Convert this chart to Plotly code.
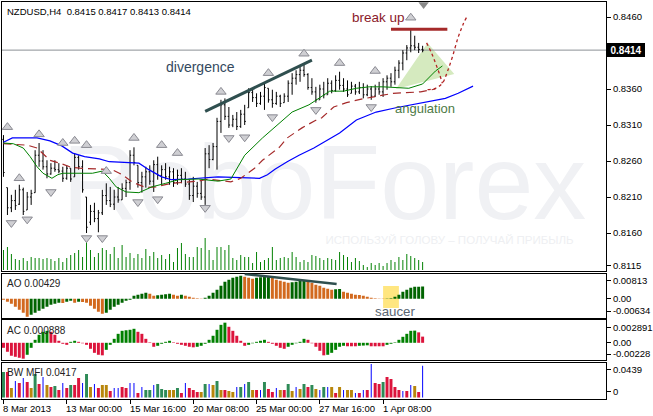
import plotly.graph_objects as go

# ---------------- data ----------------
symbol_header = "NZDUSD,H4  0.8415 0.8417 0.8413 0.8414"
tick_bars = [0, 16, 32, 48, 64, 80, 96]
tick_labels = ["8 Mar 2013", "13 Mar 00:00", "15 Mar 16:00", "20 Mar 08:00",
               "25 Mar 00:00", "27 Mar 16:00", "1 Apr 08:00"]

open_ = [0.8290,0.8223,0.8195,0.8205,0.8200,0.8220,0.8192,0.8210,0.8216,0.8268,
0.8260,0.8252,0.8242,0.8250,0.8248,0.8246,0.8236,0.8250,0.8238,0.8265,
0.8252,0.8210,0.8175,0.8190,0.8180,0.8188,0.8212,0.8205,0.8200,0.8210,
0.8206,0.8222,0.8230,0.8268,0.8254,0.8230,0.8238,0.8245,0.8232,0.8255,
0.8240,0.8248,0.8238,0.8245,0.8230,0.8240,0.8235,0.8228,0.8212,0.8225,
0.8215,0.8210,0.8270,0.8262,0.8280,0.8315,0.8338,0.8322,0.8310,0.8318,
0.8308,0.8325,0.8334,0.8355,0.8348,0.8340,0.8350,0.8361,0.8345,0.8340,
0.8350,0.8341,0.8350,0.8368,0.8375,0.8380,0.8386,0.8380,0.8362,0.8356,
0.8345,0.8360,0.8352,0.8368,0.8358,0.8372,0.8365,0.8360,0.8354,0.8364,
0.8356,0.8362,0.8352,0.8360,0.8350,0.8360,0.8356,0.8370,0.8375,0.8370,
0.8386,0.8396,0.8410,0.8417,0.8420,0.8418,0.8415]
high = [0.8296,0.8223,0.8213,0.8220,0.8227,0.8223,0.8217,0.8220,0.8275,0.8285,
0.8275,0.8261,0.8257,0.8261,0.8257,0.8252,0.8254,0.8250,0.8271,0.8268,
0.8261,0.8210,0.8199,0.8202,0.8192,0.8220,0.8229,0.8224,0.8220,0.8224,
0.8229,0.8234,0.8275,0.8279,0.8254,0.8245,0.8252,0.8254,0.8261,0.8266,
0.8254,0.8257,0.8252,0.8250,0.8248,0.8250,0.8245,0.8234,0.8238,0.8231,
0.8234,0.8278,0.8282,0.8285,0.8320,0.8345,0.8347,0.8335,0.8324,0.8328,
0.8331,0.8338,0.8361,0.8359,0.8354,0.8356,0.8368,0.8361,0.8359,0.8356,
0.8352,0.8354,0.8372,0.8382,0.8386,0.8391,0.8396,0.8382,0.8375,0.8363,
0.8366,0.8370,0.8375,0.8372,0.8379,0.8384,0.8375,0.8372,0.8370,0.8367,
0.8370,0.8368,0.8366,0.8364,0.8366,0.8370,0.8375,0.8379,0.8382,0.8391,
0.8400,0.8414,0.8421,0.8442,0.8434,0.8424,0.8420]
low = [0.8238,0.8185,0.8189,0.8192,0.8199,0.8185,0.8192,0.8199,0.8216,0.8252,
0.8248,0.8236,0.8241,0.8245,0.8243,0.8231,0.8234,0.8231,0.8238,0.8248,
0.8216,0.8160,0.8171,0.8175,0.8161,0.8185,0.8199,0.8196,0.8192,0.8202,
0.8206,0.8210,0.8220,0.8254,0.8223,0.8216,0.8223,0.8227,0.8217,0.8234,
0.8227,0.8234,0.8227,0.8224,0.8227,0.8229,0.8224,0.8206,0.8203,0.8209,
0.8206,0.8199,0.8250,0.8261,0.8248,0.8299,0.8317,0.8306,0.8307,0.8303,
0.8306,0.8310,0.8334,0.8342,0.8335,0.8338,0.8331,0.8341,0.8334,0.8338,
0.8335,0.8341,0.8342,0.8352,0.8366,0.8370,0.8377,0.8359,0.8352,0.8341,
0.8345,0.8347,0.8352,0.8354,0.8356,0.8359,0.8356,0.8349,0.8354,0.8352,
0.8353,0.8347,0.8350,0.8345,0.8349,0.8352,0.8349,0.8359,0.8363,0.8366,
0.8375,0.8386,0.8400,0.8411,0.8414,0.8410,0.8411]
close = [0.8244,0.8195,0.8205,0.8198,0.8220,0.8190,0.8210,0.8215,0.8268,0.8260,
0.8252,0.8242,0.8250,0.8248,0.8246,0.8236,0.8250,0.8235,0.8265,0.8252,
0.8220,0.8168,0.8190,0.8180,0.8188,0.8212,0.8205,0.8200,0.8210,0.8206,
0.8222,0.8230,0.8268,0.8258,0.8230,0.8238,0.8245,0.8232,0.8255,0.8240,
0.8248,0.8238,0.8245,0.8230,0.8240,0.8235,0.8228,0.8212,0.8225,0.8215,
0.8210,0.8270,0.8262,0.8280,0.8315,0.8338,0.8322,0.8310,0.8318,0.8308,
0.8325,0.8315,0.8355,0.8348,0.8340,0.8350,0.8362,0.8345,0.8340,0.8350,
0.8340,0.8350,0.8368,0.8375,0.8380,0.8386,0.8380,0.8362,0.8356,0.8345,
0.8360,0.8352,0.8368,0.8358,0.8372,0.8365,0.8360,0.8352,0.8364,0.8356,
0.8362,0.8352,0.8360,0.8350,0.8360,0.8356,0.8370,0.8375,0.8370,0.8386,
0.8396,0.8410,0.8417,0.8420,0.8418,0.8415,0.8414]
volume = [2000,2300,1600,1100,1000,1200,900,1300,1200,1200,
1100,1200,1100,900,1200,800,1200,1500,1700,2000,
1300,3300,2000,1300,1700,2200,2000,1600,2300,1200,
2500,1300,1700,1200,1600,1200,2100,1400,1800,1200,
1500,1100,1600,800,2200,2700,1600,1300,1300,2300,
2200,3200,2000,1000,2300,2300,2000,2500,1200,1000,
1500,1300,1300,700,1800,800,1000,1200,2300,1000,
1200,1300,1200,1800,1300,800,1000,800,1500,1400,
1200,1000,1200,1100,1000,1800,1500,1300,800,1200,
900,500,300,700,500,700,400,700,1000,800,
1300,1000,1600,1400,1200,1000,800]

# Alligator lines (bar index, price), drawn shifted forward as on the chart
jaw_x = [0,2.25,8.5,11.75,14.75,17.5,20.5,24.25,26.75,34.25,36.75,40,42.5,46.75,54.25,61.75,64.75,66.75,68.75,71.75,74.75,78.5,81.75,85,89.25,94.25,99.25,106.75,111.75,115,118.75]
jaw_y = [0.8286,0.8292,0.8292,0.8288,0.8281,0.8271,0.8266,0.8263,0.8259,0.8257,0.8248,0.8238,0.8234,0.8235,0.8238,0.8236,0.8236,0.8241,0.8249,0.8259,0.8268,0.8278,0.8289,0.8299,0.8317,0.8328,0.8334,0.8342,0.8347,0.8354,0.8364]
teeth_x = [0,4.25,6,8.5,11.75,14.25,16.75,19.25,22.5,27.5,30,32.5,36,38.5,42.5,46,49.25,51.75,55.5,57.5,60,63.5,65.5,69.75,71.75,75.5,78.75,80.5,83.5,86.75,90.5,94.25,98.5,105.5,109.25]
teeth_y = [0.8284,0.8282,0.8282,0.8278,0.8261,0.8257,0.8252,0.8250,0.8249,0.8248,0.8241,0.8231,0.8223,0.8224,0.8229,0.8231,0.8232,0.8235,0.8232,0.8231,0.8236,0.8250,0.8261,0.8279,0.8292,0.8306,0.8316,0.8320,0.8335,0.8341,0.8346,0.8350,0.8354,0.8356,0.8360]
lips_x = [0,2.5,5,6.75,8.5,10,12.25,13.75,15,22.5,25,26.75,28.5,31,34.25,37.5,41,44.25,49.25,54.25,57.5,61,65.5,69.75,73,77.25,79.75,82.5,86,89.25,92.5,96,102.5,106,109.25,111]
lips_y = [0.8285,0.8284,0.8278,0.8266,0.8252,0.8243,0.8236,0.8241,0.8243,0.8243,0.8246,0.8236,0.8224,0.8217,0.8216,0.8224,0.8229,0.8234,0.8235,0.8232,0.8235,0.8268,0.8292,0.8313,0.8328,0.8338,0.8347,0.8357,0.8357,0.8361,0.8363,0.8363,0.8361,0.8367,0.8385,0.8392]

frac_up_bar = [1,4,9,15,18,21,26,33,40,44,55,67,76,85,94,103]
frac_up_price = [0.8307,0.8236,0.8297,0.8285,0.8288,0.8282,0.8246,0.8292,0.8282,0.8271,0.8356,0.8382,0.8409,0.8396,0.8385,0.8459]
frac_dn_bar = [2,6,12,21,25,34,39,51,57,61,68,79,93]
frac_dn_price = [0.8174,0.8179,0.8217,0.8153,0.8153,0.8203,0.8207,0.8195,0.8292,0.8293,0.8321,0.8331,0.8335]

ao = [-0.00035,-0.00106,-0.00177,-0.00282,-0.00388,-0.00494,-0.00634,-0.00565,-0.00494,-0.00424,
-0.00353,-0.00282,-0.00212,-0.00177,-0.00141,-0.00150,-0.00106,-0.00071,-0.00141,-0.00106,
-0.00120,-0.00141,-0.00247,-0.00353,-0.00459,-0.00530,-0.00494,-0.00388,-0.00282,-0.00212,
-0.00141,-0.00071,-0.00035,0.00106,0.00141,0.00177,0.00212,0.00177,0.00106,0.00120,
0.00141,0.00160,0.00177,0.00141,0.00106,0.00141,0.00106,0.00071,0.00035,0.00018,
0.00005,0.00035,0.00106,0.00212,0.00318,0.00459,0.00600,0.00671,0.00741,0.00777,
0.00813,0.00777,0.00741,0.00706,0.00741,0.00760,0.00777,0.00790,0.00741,0.00671,
0.00635,0.00600,0.00565,0.00580,0.00600,0.00635,0.00650,0.00600,0.00565,0.00494,
0.00459,0.00388,0.00353,0.00318,0.00330,0.00340,0.00247,0.00212,0.00177,0.00141,
0.00130,0.00106,0.00071,0.00035,0.00018,0.00008,0.00005,0.00008,0.00018,0.00071,
0.00141,0.00247,0.00318,0.00388,0.00420,0.00425,0.00429]
ac = [-0.00072,-0.00129,-0.00186,-0.00201,-0.00215,-0.00228,-0.00172,-0.00072,0.00043,0.00115,
0.00158,0.00172,0.00158,0.00115,0.00029,-0.00014,-0.00029,0.00014,0.00029,0.00014,
-0.00007,-0.00029,-0.00086,-0.00144,-0.00172,-0.00180,-0.00101,-0.00029,0.00057,0.00129,
0.00172,0.00180,0.00187,0.00201,0.00158,0.00129,0.00057,0.00007,-0.00057,-0.00043,
-0.00014,0.00014,0.00029,0.00007,-0.00014,-0.00029,-0.00043,-0.00057,-0.00065,-0.00057,
-0.00043,-0.00014,0.00043,0.00101,0.00187,0.00258,0.002891,0.00230,0.00172,0.00101,
0.00029,-0.00043,-0.00029,-0.00007,0.00014,0.00029,0.00043,0.00014,-0.00014,-0.00043,
-0.00072,-0.00086,-0.00057,-0.00029,-0.00007,0.00014,0.00057,0.00043,-0.00007,-0.00057,
-0.00115,-0.00180,-0.00172,-0.00144,-0.00101,-0.00057,-0.00043,-0.00050,-0.00050,-0.00050,
-0.00043,-0.00040,-0.00036,-0.00050,-0.00050,-0.00050,-0.00050,-0.00029,-0.00014,0.00007,
0.00043,0.00086,0.00129,0.00172,0.00175,0.00150,0.000888]
mfi = [0.0334,0.0334,0.0124,0.0216,0.0190,0.0255,0.0203,0.0124,0.0308,0.0177,
0.0269,0.0164,0.0138,0.0151,0.0098,0.0190,0.0124,0.0164,0.0164,0.0255,
0.0190,0.0308,0.0138,0.0177,0.0124,0.0164,0.0164,0.0085,0.0124,0.0124,
0.0138,0.0124,0.0190,0.0190,0.0059,0.0138,0.0098,0.0098,0.0164,0.0177,
0.0111,0.0098,0.0098,0.0098,0.0124,0.0059,0.0190,0.0124,0.0098,0.0072,
0.0072,0.0177,0.0177,0.0164,0.0216,0.0098,0.0098,0.0085,0.0072,0.0138,
0.0138,0.0177,0.0203,0.0098,0.0098,0.0098,0.0203,0.0111,0.0072,0.0124,
0.0098,0.0098,0.0177,0.0085,0.0138,0.0111,0.0177,0.0138,0.0164,0.0111,
0.0098,0.0138,0.0138,0.0138,0.0059,0.0138,0.0098,0.0098,0.0098,0.0059,
0.0059,0.0098,0.0098,0.0439,0.0190,0.0177,0.0203,0.0269,0.0242,0.0138,
0.0098,0.0085,0.0085,0.0164,0.0151,0.0072,0.0417]
# bar class: g = green, s = squat, f = fade, k = fake
mfi_type = list("gsfksksfgs" + "kfsgsksgss" + "kgfksffskk" + "sskkskggkg" +
                "ggffgsksss" + "fgkfgfsffk" + "gkgfskgssk" + "fsgfkfgsgf" +
                "kgkfsfkffk" + "skskssgsss" + "skskfsk")

# chart drawings
div_x = [51, 78]
div_y = [0.8329, 0.8400]
break_x = [98, 112.25]
break_y = 0.8443
tri_x = [99.25, 107.25, 114]
tri_y = [0.8360, 0.8424, 0.8381]
curveA_x = [107, 108.25, 109.25, 110.25, 111]
curveA_y = [0.8424, 0.8410, 0.8396, 0.8381, 0.8368]
curveB_x = [107.25, 109.25, 111, 112.25, 113.5, 115, 116.25, 117.25]
curveB_y = [0.8359, 0.8361, 0.8368, 0.8384, 0.8404, 0.8432, 0.8450, 0.8461]
ao_line_x = [61, 84.25]
ao_line_y = [0.00872, 0.00519]
saucer_x = [96, 100]
saucer_y = [-0.00328, 0.00448]
last_price = 0.8414

price_ticks = [0.8460, 0.8360, 0.8310, 0.8260, 0.8210, 0.8160, 0.8115]

# ---------------- figure ----------------
H = 416.0
def fy(px):
    return 1 - px / H

n = len(close)
bars = list(range(n))
XR = [-0.375, 152.375]
PR = [0.810722, 0.848153]

fig = go.Figure()

# watermark (base axis, beneath everything)
fig.add_trace(go.Scatter(x=[81.1], y=[0.82169], mode="text", text=["RoboForex"],
                         textfont=dict(size=106, color="#f0f1f4", family="Liberation Sans"),
                         hoverinfo="skip", showlegend=False, cliponaxis=False))
fig.add_trace(go.Scatter(x=[112.8], y=[0.81489], mode="text",
                         text=["ИСПОЛЬЗУЙ ГОЛОВУ – ПОЛУЧАЙ ПРИБЫЛЬ"],
                         textfont=dict(size=11.5, color="#eeeff2", family="Liberation Sans"),
                         hoverinfo="skip", showlegend=False, cliponaxis=False))

# volumes
fig.add_trace(go.Bar(x=bars, y=volume, width=0.25, marker=dict(color="#008000", line=dict(width=0)),
                     yaxis="y5", showlegend=False))

# price bars
fig.add_trace(go.Ohlc(x=bars, open=open_, high=high, low=low, close=close,
                      increasing=dict(line=dict(color="black", width=1)),
                      decreasing=dict(line=dict(color="black", width=1)),
                      tickwidth=0.3, yaxis="y6", showlegend=False))

# alligator
fig.add_trace(go.Scatter(x=jaw_x, y=jaw_y, mode="lines", line=dict(color="#0000ff", width=1.2),
                         yaxis="y6", showlegend=False))
fig.add_trace(go.Scatter(x=teeth_x, y=teeth_y, mode="lines",
                         line=dict(color="#a52a2a", width=1.2, dash="8px,5px"),
                         yaxis="y6", showlegend=False))
fig.add_trace(go.Scatter(x=lips_x, y=lips_y, mode="lines", line=dict(color="#008000", width=1),
                         yaxis="y6", showlegend=False))

# hand drawn dotted curves
for cx, cy in [(curveA_x, curveA_y), (curveB_x, curveB_y)]:
    fig.add_trace(go.Scatter(x=cx, y=cy, mode="lines", line=dict(color="#b22222", width=1.3, dash="3px,3px"),
                             line_shape="spline", yaxis="y6", showlegend=False, cliponaxis=False))

# fractals
fig.add_trace(go.Scatter(x=frac_up_bar, y=frac_up_price, mode="markers",
                         marker=dict(symbol="triangle-up", size=9, color="#cfcfd3",
                                     line=dict(color="#8a8a92", width=1)),
                         yaxis="y6", showlegend=False))
fig.add_trace(go.Scatter(x=frac_dn_bar, y=frac_dn_price, mode="markers",
                         marker=dict(symbol="triangle-down", size=9, color="#cfcfd3",
                                     line=dict(color="#8a8a92", width=1)),
                         yaxis="y6", showlegend=False))
# chart shift marker
fig.add_trace(go.Scatter(x=[106.25], y=[0.84775], mode="markers",
                         marker=dict(symbol="triangle-down", size=9, color="#8a8a8a"),
                         yaxis="y6", showlegend=False, cliponaxis=False))

# AO
ao_col = ["#006400" if k > 0 and ao[k] > ao[k - 1] else "#d2691e" for k in range(n)]
fig.add_trace(go.Bar(x=bars, y=ao, width=0.75, marker=dict(color=ao_col, line=dict(width=0)),
                     xaxis="x2", yaxis="y2", showlegend=False))
# AC
ac_col = ["#008000" if k > 0 and ac[k] > ac[k - 1] else "#dc143c" for k in range(n)]
fig.add_trace(go.Bar(x=bars, y=ac, width=0.75, marker=dict(color=ac_col, line=dict(width=0)),
                     xaxis="x3", yaxis="y3", showlegend=False))
# BW MFI
mfi_colors = {"g": "#2e8b57", "s": "#dc143c", "f": "#b8860b", "k": "#0000ff"}
fig.add_trace(go.Bar(x=bars, y=mfi,
                     width=[0.25 if t == "k" else 0.75 for t in mfi_type],
                     marker=dict(color=[mfi_colors[t] for t in mfi_type], line=dict(width=0)),
                     xaxis="x4", yaxis="y4", showlegend=False))

axis_common = dict(showline=True, mirror=True, linecolor="black", linewidth=1,
                   showgrid=False, zeroline=False)
tickfont = dict(size=9.5, color="black", family="Liberation Sans")

layout = dict(
    width=653, height=416,
    margin=dict(l=2, r=40, t=0, b=0),
    paper_bgcolor="white", plot_bgcolor="white",
    font=dict(family="Liberation Sans", color="black"),
    barmode="overlay", showlegend=False, hovermode=False,
    xaxis=dict(domain=[0, 1], range=XR, anchor="y", showticklabels=False, ticks="",
               rangeslider=dict(visible=False), **axis_common),
    xaxis2=dict(domain=[0, 1], range=XR, anchor="y2", matches="x", showticklabels=False, ticks="", **axis_common),
    xaxis3=dict(domain=[0, 1], range=XR, anchor="y3", matches="x", showticklabels=False, ticks="", **axis_common),
    xaxis4=dict(domain=[0, 1], range=XR, anchor="y4", matches="x", showticklabels=False,
                ticks="outside", ticklen=4, tickcolor="black", tickvals=tick_bars, **axis_common),
    yaxis=dict(domain=[fy(271), fy(1.5)], range=PR, side="right", anchor="x",
               ticks="outside", ticklen=4, tickcolor="black", tickvals=price_ticks,
               ticktext=["%.4f" % v for v in price_ticks], tickfont=tickfont, **axis_common),
    yaxis5=dict(overlaying="y", range=[-100, 26850], visible=False, anchor="x"),
    yaxis6=dict(overlaying="y", range=PR, visible=False, anchor="x"),
    yaxis2=dict(domain=[fy(317.5), fy(273.5)], range=[-0.006636, 0.008896], side="right", anchor="x2",
                ticks="outside", ticklen=4, tickcolor="black",
                tickvals=[0.006425, 0.000141, -0.004342], ticktext=["0.00813", "0.00", "-0.00634"],
                tickfont=tickfont, **axis_common),
    yaxis3=dict(domain=[fy(360), fy(320)], range=[-0.00247, 0.003274], side="right", anchor="x3",
                ticks="outside", ticklen=4, tickcolor="black",
                tickvals=[0.002226, 0.0, -0.001608], ticktext=["0.002891", "0.00", "-0.00228"],
                tickfont=tickfont, **axis_common),
    yaxis4=dict(domain=[fy(398.5), fy(362.5)], range=[-0.00131, 0.04585], side="right", anchor="x4",
                ticks="outside", ticklen=4, tickcolor="black",
                tickvals=[0.03694, 0.0076], ticktext=["0.0439", "0"],
                tickfont=tickfont, **axis_common),
)
fig.update_layout(**layout)

# shapes
tri_path = "M {} {} L {} {} L {} {} Z".format(tri_x[0], tri_y[0], tri_x[1], tri_y[1], tri_x[2], tri_y[2])
fig.add_shape(type="path", path=tri_path, xref="x", yref="y", fillcolor="#d5eabf",
              line=dict(width=0), layer="below")
fig.add_shape(type="line", xref="x", yref="y", x0=XR[0], x1=XR[1], y0=last_price, y1=last_price,
              line=dict(color="#8c9196", width=1), layer="below")
fig.add_shape(type="line", xref="x", yref="y", x0=break_x[0], x1=break_x[1], y0=break_y, y1=break_y,
              line=dict(color="#a52a2a", width=3))
fig.add_shape(type="line", xref="x", yref="y", x0=div_x[0], x1=div_x[1], y0=div_y[0], y1=div_y[1],
              line=dict(color="#2f4f4f", width=3))
fig.add_shape(type="rect", xref="x2", yref="y2", x0=saucer_x[0], x1=saucer_x[1],
              y0=saucer_y[0], y1=saucer_y[1], fillcolor="#ffe680", line=dict(width=0), layer="below")
fig.add_shape(type="line", xref="x2", yref="y2", x0=ao_line_x[0], x1=ao_line_x[1],
              y0=ao_line_y[0], y1=ao_line_y[1], line=dict(color="#2f4f4f", width=2.5))

def px_x(px):
    return (px - 2) / 611.0

ann = []
ann.append(dict(xref="paper", yref="paper", x=px_x(5), y=fy(11), xanchor="left", yanchor="middle",
                text=symbol_header, showarrow=False, font=dict(size=9.5, color="black")))
ann.append(dict(xref="x", yref="y", x=49.75, y=0.83906, text="divergence", showarrow=False,
                font=dict(size=14, color="#34495e")))
ann.append(dict(xref="x", yref="y", x=94.75, y=0.8460, text="break up", showarrow=False,
                font=dict(size=13.5, color="#8b1a2a")))
ann.append(dict(xref="x", yref="y", x=106.6, y=0.83336, text="angulation", showarrow=False,
                font=dict(size=13, color="#4d7a45")))
ann.append(dict(xref="x2", yref="y2", x=98.9, y=-0.00452, text="saucer", showarrow=False,
                font=dict(size=13.3, color="#5a6672")))
for txt, ypx in [("AO 0.00429", 283), ("AC 0.000888", 330), ("BW MFI 0.0417", 372)]:
    ann.append(dict(xref="paper", yref="paper", x=px_x(5), y=fy(ypx), xanchor="left", yanchor="middle",
                    text=txt, showarrow=False, font=dict(size=10, color="#222222")))
for b, lab in zip(tick_bars, tick_labels):
    ann.append(dict(xref="x", yref="paper", x=b, y=fy(408), xanchor="left", yanchor="middle",
                    xshift=-2.5, text=lab, showarrow=False, font=dict(size=9.5, color="black")))
ann.append(dict(xref="paper", yref="paper", x=px_x(614), y=fy(50), xanchor="left", yanchor="middle",
                text="<b>0.8414</b>", showarrow=False, bgcolor="black", bordercolor="black",
                borderwidth=1, borderpad=1, width=34, height=10,
                font=dict(size=10, color="white")))
fig.update_layout(annotations=ann)

fig.write_html("out.html", config={"displayModeBar": False, "staticPlot": True},
               post_script="document.body.style.margin='0';document.body.style.overflow='hidden';")
